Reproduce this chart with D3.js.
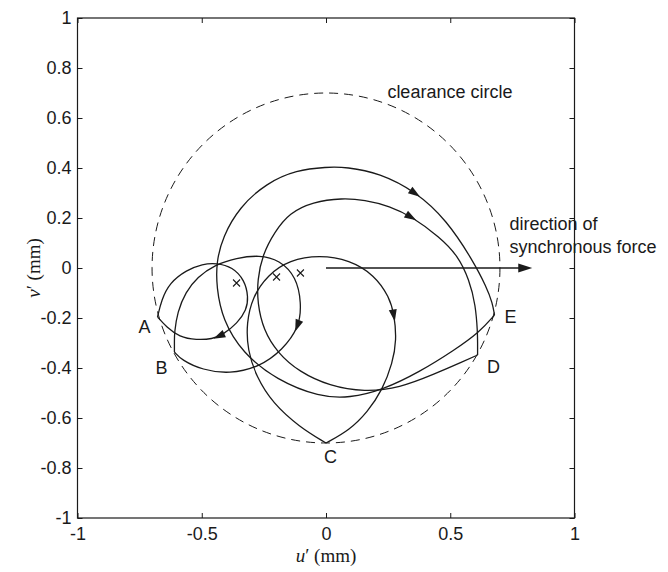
<!DOCTYPE html>
<html>
<head>
<meta charset="utf-8">
<script src="https://cdn.jsdelivr.net/npm/d3@7"></script>
<style>
  body { margin: 0; background: #fff; }
  text { fill: #1a1a1a; }
</style>
</head>
<body>
<div id="chart"></div>
<script>
// tick values
const xTicks = [-1, -0.5, 0, 0.5, 1];
const yTicks = [-1, -0.8, -0.6, -0.4, -0.2, 0, 0.2, 0.4, 0.6, 0.8, 1];

// clearance circle radius (mm)
const clearance = 0.7;

// orbits, in traversal order [u', v']
const loopA = [[-0.678,-0.196],[-0.662,-0.128],[-0.630,-0.060],[-0.561,-0.008],[-0.497,0.016],[-0.441,0.020],
  [-0.376,0.004],[-0.328,-0.048],[-0.312,-0.116],[-0.320,-0.168],[-0.356,-0.220],[-0.416,-0.268],
  [-0.457,-0.284],[-0.521,-0.288],[-0.590,-0.276],[-0.642,-0.236],[-0.678,-0.196]];
const loopB = [[-0.610,-0.336],[-0.610,-0.290],[-0.610,-0.260],[-0.598,-0.176],[-0.565,-0.096],[-0.517,-0.036],[-0.449,0.012],
  [-0.360,0.040],[-0.268,0.052],[-0.187,0.032],[-0.119,-0.036],[-0.099,-0.140],[-0.107,-0.236],
  [-0.175,-0.328],[-0.268,-0.396],[-0.388,-0.424],[-0.497,-0.408],[-0.581,-0.368],[-0.610,-0.336]];
const loopC = [[0,-0.70],[-0.107,-0.636],[-0.215,-0.540],[-0.280,-0.436],[-0.316,-0.328],[-0.320,-0.220],
  [-0.296,-0.116],[-0.235,-0.028],[-0.147,0.032],[-0.026,0.052],[0.095,0.032],[0.195,-0.028],
  [0.255,-0.116],[0.275,-0.188],[0.284,-0.288],[0.268,-0.380],[0.227,-0.488],[0.167,-0.576],
  [0.095,-0.648],[0,-0.70]];
const loopD = [[0.610,-0.348],[0.557,-0.372],[0.437,-0.424],[0.296,-0.480],[0.155,-0.496],[0.014,-0.472],
  [-0.107,-0.416],[-0.195,-0.340],[-0.252,-0.248],[-0.276,-0.140],[-0.276,-0.048],[-0.256,0.052],
  [-0.207,0.144],[-0.147,0.220],[-0.054,0.264],[0.066,0.280],[0.155,0.272],[0.256,0.248],
  [0.348,0.204],[0.457,0.124],[0.529,0.052],[0.577,-0.048],[0.602,-0.148],[0.610,-0.260],[0.610,-0.300],[0.610,-0.348]];
const loopE = [[0.678,-0.188],[0.618,-0.256],[0.517,-0.328],[0.376,-0.416],[0.227,-0.488],[0.095,-0.520],
  [-0.026,-0.516],[-0.199,-0.448],[-0.336,-0.340],[-0.416,-0.208],[-0.441,-0.076],[-0.441,0.024],
  [-0.416,0.124],[-0.348,0.244],[-0.239,0.340],[-0.119,0.392],[0.002,0.404],[0.082,0.404],
  [0.215,0.380],[0.364,0.304],[0.485,0.192],[0.590,0.032],[0.646,-0.076],[0.670,-0.140],[0.678,-0.188]];
const loops = [loopA, loopB, loopC, loopD, loopE];

// arrow heads: loop index, point on the orbit
const arrows = [[0,-0.43,-0.275],[1,-0.107,-0.236],[2,0.275,-0.19],[3,0.346,0.206],[4,0.364,0.304]];

// x marks
const centres = [[-0.360,-0.060],[-0.199,-0.036],[-0.103,-0.020]];

// synchronous force arrow
const force = [[0,0],[0.83,0]];

// annotations [text, u', v']
const pointLabels = [["A",-0.730,-0.236],["B",-0.662,-0.400],["C",0.018,-0.756],["D",0.674,-0.396],["E",0.742,-0.196]];
const notes = [["clearance circle",0.247,0.68],["direction of",0.738,0.152],["synchronous force",0.738,0.06]];

const width = 668, height = 572;
const svg = d3.select('#chart').append('svg')
  .attr('width', width)
  .attr('height', height)
  .style('font-family', '"Liberation Sans", Arial, sans-serif');

const x = d3.scaleLinear().domain([-1, 1]).range([77.5, 574.5]);
const y = d3.scaleLinear().domain([-1, 1]).range([518, 18]);
const ink = '#1a1a1a';

// axes with inward ticks on all four sides
const fmt = d => String(d);
svg.append('g').attr('transform', `translate(0,${y(-1)})`)
  .call(d3.axisBottom(x).tickValues(xTicks).tickFormat(fmt).tickSizeInner(-5).tickSizeOuter(0).tickPadding(9));
svg.append('g').attr('transform', `translate(0,${y(1)})`)
  .call(d3.axisTop(x).tickValues(xTicks).tickFormat('').tickSizeInner(-5).tickSizeOuter(0));
svg.append('g').attr('transform', `translate(${x(-1)},0)`)
  .call(d3.axisLeft(y).tickValues(yTicks).tickFormat(fmt).tickSizeInner(-5).tickSizeOuter(0).tickPadding(6));
svg.append('g').attr('transform', `translate(${x(1)},0)`)
  .call(d3.axisRight(y).tickValues(yTicks).tickFormat('').tickSizeInner(-5).tickSizeOuter(0));
svg.selectAll('.tick text').style('font-size', '18px').style('font-family', '"Liberation Sans", Arial, sans-serif').attr('fill', ink);
svg.selectAll('.domain').remove();
svg.selectAll('.tick line').attr('stroke', ink);

svg.append('rect')
  .attr('x', x(-1)).attr('y', y(1))
  .attr('width', x(1) - x(-1)).attr('height', y(-1) - y(1))
  .attr('fill', 'none').attr('stroke', ink).attr('stroke-width', 1.2);

// axis titles
svg.append('text')
  .attr('x', x(0)).attr('y', 562)
  .attr('text-anchor', 'middle')
  .style('font-family', '"Liberation Serif", "Times New Roman", serif')
  .style('font-size', '19px')
  .html('<tspan font-style="italic">u</tspan>′ (mm)');
svg.append('text')
  .attr('transform', `translate(40,${y(0)}) rotate(-90)`)
  .attr('text-anchor', 'middle')
  .style('font-family', '"Liberation Serif", "Times New Roman", serif')
  .style('font-size', '19px')
  .html('<tspan font-style="italic">v</tspan>′ (mm)');

// clearance circle
svg.append('ellipse')
  .attr('cx', x(0)).attr('cy', y(0))
  .attr('rx', x(clearance) - x(0)).attr('ry', y(0) - y(clearance))
  .attr('fill', 'none').attr('stroke', ink).attr('stroke-width', 1)
  .attr('stroke-dasharray', '9,6');

// orbits
const line = d3.line().x(d => x(d[0])).y(d => y(d[1])).curve(d3.curveBasis);
const paths = svg.append('g').selectAll('path')
  .data(loops)
  .join('path')
  .attr('d', line)
  .attr('fill', 'none')
  .attr('stroke', ink)
  .attr('stroke-width', 1.3);

// arrow heads placed on the orbit, pointing along it
const head = 'M6,0 L-6,-4 L-6,4 Z';
arrows.forEach(([k, u, v]) => {
  const node = paths.nodes()[k];
  const total = node.getTotalLength();
  const px = x(u), py = y(v);
  let best = 0, bestD = Infinity;
  for (let l = 0; l <= total; l += 1) {
    const p = node.getPointAtLength(l);
    const dd = (p.x - px) ** 2 + (p.y - py) ** 2;
    if (dd < bestD) { bestD = dd; best = l; }
  }
  const p0 = node.getPointAtLength(Math.max(0, best - 3));
  const p1 = node.getPointAtLength(Math.min(total, best + 3));
  const pm = node.getPointAtLength(best);
  const ang = Math.atan2(p1.y - p0.y, p1.x - p0.x) * 180 / Math.PI;
  svg.append('path')
    .attr('d', head)
    .attr('transform', `translate(${pm.x},${pm.y}) rotate(${ang})`)
    .attr('fill', ink);
});

// x marks
svg.append('g').selectAll('path')
  .data(centres)
  .join('path')
  .attr('d', d => {
    const cx = x(d[0]), cy = y(d[1]), s = 3.5;
    return `M${cx - s},${cy - s}L${cx + s},${cy + s}M${cx - s},${cy + s}L${cx + s},${cy - s}`;
  })
  .attr('stroke', ink).attr('stroke-width', 1.1);

// direction of synchronous force
svg.append('line')
  .attr('x1', x(force[0][0])).attr('y1', y(force[0][1]))
  .attr('x2', x(force[1][0]) - 10).attr('y2', y(force[1][1]))
  .attr('stroke', ink).attr('stroke-width', 1.4);
svg.append('path')
  .attr('d', 'M0,0 L-14,-4.5 L-14,4.5 Z')
  .attr('transform', `translate(${x(force[1][0])},${y(force[1][1])})`)
  .attr('fill', ink);

// labels
svg.append('g').selectAll('text')
  .data(pointLabels)
  .join('text')
  .attr('x', d => x(d[1])).attr('y', d => y(d[2]))
  .attr('text-anchor', 'middle')
  .attr('dominant-baseline', 'central')
  .style('font-size', '18px')
  .text(d => d[0]);

svg.append('g').selectAll('text')
  .data(notes)
  .join('text')
  .attr('x', d => x(d[1])).attr('y', d => y(d[2]))
  .style('font-size', '18px')
  .text(d => d[0]);
</script>
</body>
</html>
